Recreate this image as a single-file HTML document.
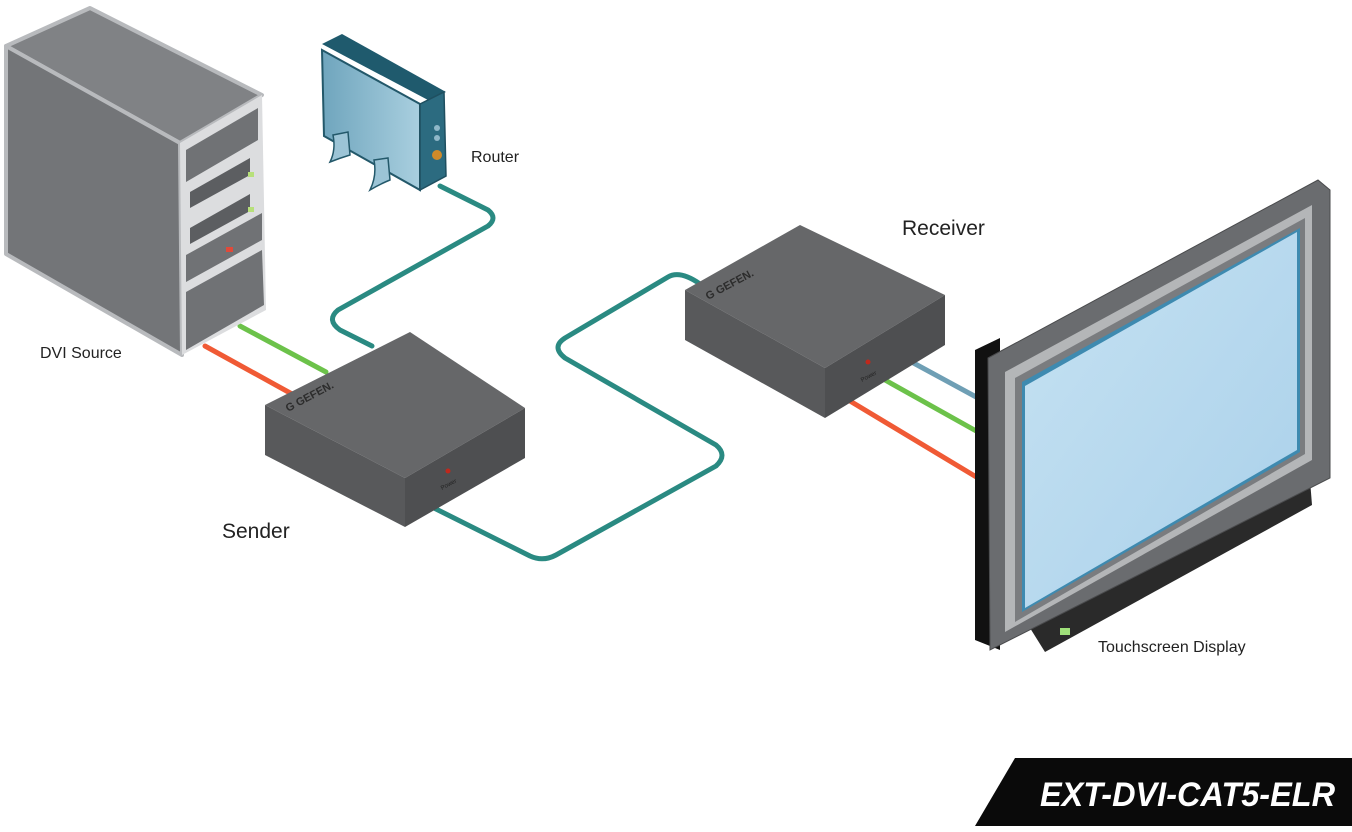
<!DOCTYPE html>
<html><head><meta charset="utf-8"><style>
html,body{margin:0;padding:0;background:#fff;}
svg{display:block;}
text{font-family:"Liberation Sans",sans-serif;}
</style></head><body>
<svg width="1352" height="832" viewBox="0 0 1352 832" xmlns="http://www.w3.org/2000/svg">
<defs>
<linearGradient id="rt" x1="0" y1="0" x2="1" y2="0"><stop offset="0" stop-color="#6fa5bd"/><stop offset="1" stop-color="#a9cfdf"/></linearGradient>
<linearGradient id="scr" x1="0" y1="0" x2="1" y2="1"><stop offset="0" stop-color="#c6e2f2"/><stop offset="1" stop-color="#a9d0ea"/></linearGradient>
</defs>
<g fill="none" stroke-width="5" stroke-linecap="round" stroke-linejoin="round">
<path d="M440 186 L488 210 Q498 218 488 226 L338 310 Q326 320 340 330 L372 346" stroke="#2a8a82"/>
<path d="M430 506 L530 556 Q543 562 556 555 L716 466 Q728 455 716 445 L565 358 Q551 347 565 338 L668 277 Q680 270 700 284" stroke="#2a8a82"/>
<path d="M240 326 L326 372" stroke="#6cc24a"/>
<path d="M205 346 L292 394" stroke="#f05a35"/>
<path d="M908 360 L978 398" stroke="#6f9fb5"/>
<path d="M885 380 L978 432" stroke="#6cc24a"/>
<path d="M845 398 L978 478" stroke="#f05a35"/>
</g>
<!-- tower -->
<path d="M90,8 L262,95 L180,143 L6,46 Z" fill="#808285" stroke="#b8babd" stroke-width="4" stroke-linejoin="round"/>
<path d="M6,46 L180,143 L182,355 L6,254 Z" fill="#737578" stroke="#b8babd" stroke-width="4" stroke-linejoin="round"/>
<polygon points="180,143 262,95 266,310 182,355" fill="#dcdddf"/>
<polygon points="186,150 258,108 258,140 186,182" fill="#707275"/>
<polygon points="190,192 250,158 250,175 190,208" fill="#5c5e61"/>
<polygon points="190,228 250,194 250,211 190,244" fill="#5c5e61"/>
<rect x="248" y="172" width="6" height="5" fill="#b7e07a"/>
<rect x="248" y="207" width="6" height="5" fill="#b7e07a"/>
<polygon points="186,255 262,213 262,240 186,282" fill="#707275"/>
<rect x="226" y="247" width="7" height="5" fill="#e04a3a"/>
<polygon points="186,292 262,250 264,305 186,350" fill="#707275"/>
<!-- router -->
<polygon points="322,44 342,34 446,92 428,100" fill="#1f5a6d"/>
<polygon points="322,50 420,104 420,190 324,136" fill="url(#rt)" stroke="#23586a" stroke-width="2"/>
<polygon points="420,104 444,92 446,176 420,190" fill="#2c6b80" stroke="#1f4f60" stroke-width="1.5"/>
<circle cx="437" cy="128" r="3" fill="#8fb7c8"/><circle cx="437" cy="138" r="3" fill="#8fb7c8"/>
<circle cx="437" cy="155" r="5" fill="#d08a2a"/>
<path d="M333 135 L348 132 L350 155 Q340 158 330 162 Q336 150 333 135Z" fill="#9cc4d6" stroke="#23586a" stroke-width="1.5"/>
<path d="M374 160 L388 158 L390 180 Q380 184 370 190 Q377 176 374 160Z" fill="#9cc4d6" stroke="#23586a" stroke-width="1.5"/>
<!-- sender -->
<polygon points="265,405 410,332 525,408 405,478" fill="#666769"/>
<polygon points="265,405 405,478 405,527 265,455" fill="#58595b"/>
<polygon points="405,478 525,408 525,458 405,527" fill="#4e4f51"/>
<text x="288" y="412" font-size="11" font-weight="bold" fill="#2c2c2c" transform="rotate(-28 288 412)">G GEFEN.</text>
<circle cx="448" cy="471" r="2.5" fill="#c0281c"/>
<text x="442" y="490" font-size="6" fill="#222" transform="rotate(-28 442 490)">Power</text>
<!-- receiver -->
<polygon points="685,290 800,225 945,295 825,368" fill="#666769"/>
<polygon points="685,290 825,368 825,418 685,340" fill="#58595b"/>
<polygon points="825,368 945,295 945,345 825,418" fill="#4e4f51"/>
<text x="708" y="300" font-size="11" font-weight="bold" fill="#2c2c2c" transform="rotate(-28 708 300)">G GEFEN.</text>
<circle cx="868" cy="362" r="2.5" fill="#c0281c"/>
<text x="862" y="382" font-size="6" fill="#222" transform="rotate(-28 862 382)">Power</text>
<!-- monitor -->
<polygon points="975,350 1000,338 1000,650 975,640" fill="#111"/>
<polygon points="1030,628 1310,480 1312,505 1045,652" fill="#2a2a2a"/>
<polygon points="988,358 1318,180 1330,190 1330,478 990,650" fill="#6a6c6f" stroke="#4a4b4d" stroke-width="1"/>
<polygon points="1005,372 1312,205 1312,460 1005,632" fill="#b4b6b8"/>
<polygon points="1015,378 1305,218 1305,454 1015,622" fill="#7a7c7f"/>
<polygon points="1022,382 1300,228 1300,452 1022,612" fill="#3e8ab0"/>
<polygon points="1025,386 1297,232 1297,450 1025,608" fill="url(#scr)"/>
<rect x="1060" y="628" width="10" height="7" fill="#9fe07a"/>
<!-- labels -->
<text x="471" y="162" font-size="16" fill="#222">Router</text>
<text x="40" y="358" font-size="16" fill="#222">DVI Source</text>
<text x="222" y="538" font-size="21" fill="#222">Sender</text>
<text x="902" y="235" font-size="21" fill="#222">Receiver</text>
<text x="1098" y="652" font-size="16" fill="#222">Touchscreen Display</text>
<polygon points="1015,758 1352,758 1352,826 975,826" fill="#0a0a0a"/>
<text x="1335" y="806" font-size="34" font-weight="bold" font-style="italic" fill="#fff" text-anchor="end" textLength="295" lengthAdjust="spacingAndGlyphs">EXT-DVI-CAT5-ELR</text>
</svg>
</body></html>
